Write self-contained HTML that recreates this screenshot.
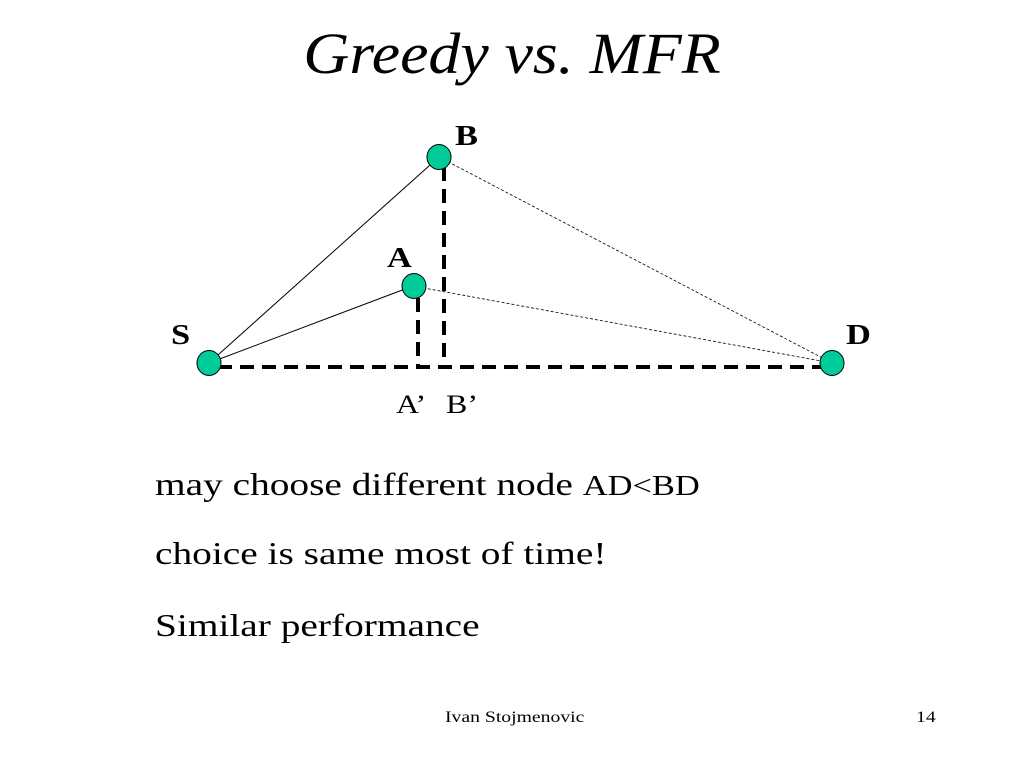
<!DOCTYPE html>
<html><head><style>
body{margin:0;background:#fff;width:1024px;height:768px;overflow:hidden;position:relative;font-family:"Liberation Serif",serif;}
.t{position:absolute;white-space:nowrap;color:#000;}
.s{transform:scaleX(1.23);transform-origin:left center;}
</style></head><body>
<div class="t" style="left:0;width:1024px;text-align:center;top:20px;font-size:58px;font-style:italic;transform:scaleX(1.1);transform-origin:center;">Greedy vs. MFR</div>
<svg width="1024" height="768" style="position:absolute;left:0;top:0">
<line x1="209" y1="363" x2="439" y2="157" stroke="#000" stroke-width="1"/>
<line x1="209" y1="363" x2="413" y2="286" stroke="#000" stroke-width="1"/>
<line x1="439" y1="157" x2="832" y2="363" stroke="#000" stroke-width="0.8" stroke-dasharray="3,2"/>
<line x1="413" y1="286" x2="832" y2="363" stroke="#000" stroke-width="0.8" stroke-dasharray="3,2"/>
<line x1="218" y1="367" x2="822" y2="367" stroke="#000" stroke-width="4" stroke-dasharray="14,8"/>
<line x1="444" y1="167" x2="444" y2="367" stroke="#000" stroke-width="4" stroke-dasharray="14,8"/>
<line x1="418" y1="298" x2="418" y2="367" stroke="#000" stroke-width="4" stroke-dasharray="14,8"/>
<g fill="#00CC99" stroke="#000" stroke-width="1">
<ellipse cx="209" cy="363" rx="12" ry="12.5"/>
<ellipse cx="439" cy="157" rx="12" ry="12.5"/>
<ellipse cx="414" cy="286" rx="12" ry="12.5"/>
<ellipse cx="832" cy="363" rx="12" ry="12.5"/>
</g>
</svg>
<div class="t s" style="left:455px;top:121px;font-size:28px;font-weight:bold;">B</div>
<div class="t s" style="left:387px;top:243px;font-size:28px;font-weight:bold;">A</div>
<div class="t s" style="left:171px;top:320px;font-size:28px;font-weight:bold;">S</div>
<div class="t s" style="left:846px;top:320px;font-size:28px;font-weight:bold;">D</div>
<div class="t s" style="left:396px;top:390px;font-size:26px;">A’</div>
<div class="t s" style="left:446px;top:390px;font-size:26px;">B’</div>
<div class="t s" style="left:155px;top:466px;font-size:32px;">may choose different node <span style="font-size:28px">AD&lt;BD</span></div>
<div class="t s" style="left:155px;top:535px;font-size:32px;">choice is same most of time!</div>
<div class="t s" style="left:155px;top:607px;font-size:32px;">Similar performance</div>
<div class="t s" style="left:445px;top:709px;font-size:16px;">Ivan Stojmenovic</div>
<div class="t s" style="left:916px;top:709px;font-size:16px;">14</div>
</body></html>
